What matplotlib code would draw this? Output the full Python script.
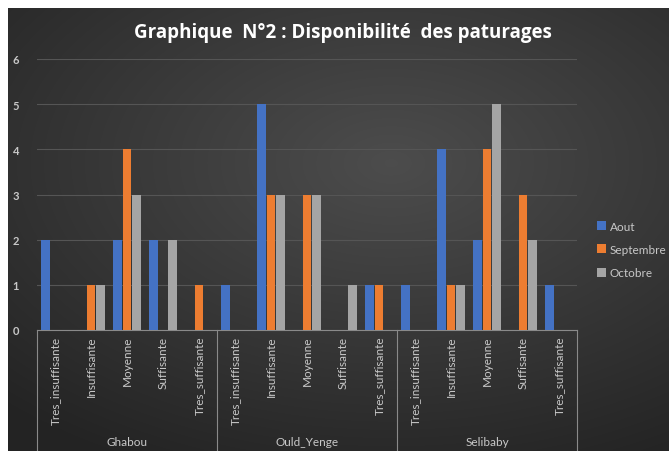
import numpy as np
import matplotlib
matplotlib.use('Agg')
import matplotlib.pyplot as plt
from matplotlib.patches import Patch

plt.rcParams['font.family'] = ['Lato', 'DejaVu Sans']

groups = ['Ghabou', 'Ould_Yenge', 'Selibaby']
categories = ['Tres_insuffisante', 'Insuffisante', 'Moyenne', 'Suffisante', 'Tres_suffisante']
aout = [2, 0, 2, 2, 0, 1, 5, 0, 0, 1, 1, 4, 2, 0, 1]
septembre = [0, 1, 4, 0, 1, 0, 3, 3, 0, 1, 0, 1, 4, 3, 0]
octobre = [0, 1, 3, 2, 0, 0, 3, 3, 1, 0, 0, 1, 5, 2, 0]
series = ['Aout', 'Septembre', 'Octobre']
colors = ['#4472C4', '#ED7D31', '#A5A5A5']

W, H = 669, 452
fig = plt.figure(figsize=(W / 100, H / 100), dpi=100)
fig.patch.set_facecolor('white')

# dark radial background
bg = fig.add_axes([8 / W, 0, (W - 8) / W, (H - 9) / H])
bg.set_axis_off()
yy, xx = np.mgrid[0:1:300j, 0:1:450j]
r = np.sqrt(((xx - 0.58) / 1.0) ** 2 + ((yy - 0.35) / 0.9) ** 2)
g = np.clip(0.30 - 0.19 * r, 0.14, 0.30)
bg.imshow(np.dstack([g, g, g]), aspect='auto', extent=[0, 1, 1, 0], interpolation='bilinear')
bg.set_xlim(0, 1)
bg.set_ylim(1, 0)

x0, x1, ytop, ybot = 37, 577, 60, 331
ax = fig.add_axes([x0 / W, 1 - ybot / H, (x1 - x0) / W, (ybot - ytop) / H])
ax.set_facecolor('none')

x = np.arange(len(aout))
w = 0.24
off = 0.265
for i, (vals, c, lab) in enumerate(zip([aout, septembre, octobre], colors, series)):
    ax.bar(x + (i - 1) * off, vals, width=w, color=c, label=lab, zorder=3)

ax.set_xlim(-0.5, len(aout) - 0.5)
ax.set_ylim(0, 6)
ax.set_yticks(range(7))
ax.yaxis.grid(True, color='#555555', linewidth=0.8, zorder=0)
for s in ['top', 'right', 'left']:
    ax.spines[s].set_visible(False)
ax.spines['bottom'].set_color('#8a8a8a')
ax.spines['bottom'].set_linewidth(0.8)
ax.tick_params(axis='y', length=0, pad=13, labelcolor='#c8c8c8', labelsize=8)
ax.tick_params(axis='x', length=0, pad=4, labelcolor='#c8c8c8', labelsize=8.5)
ax.set_xticks(x)
ax.set_xticklabels(categories * len(groups), rotation=90, va='top')
for lab in ax.get_yticklabels():
    lab.set_fontweight('bold')

# group separators and group labels
tr = ax.get_xaxis_transform()
n = len(categories)
for k in range(len(groups) + 1):
    ax.plot([k * n - 0.5] * 2, [0, -0.45], transform=tr, color='#8a8a8a', lw=0.8, clip_on=False)
for k, gname in enumerate(groups):
    ax.text(k * n + (n - 1) / 2, -0.41, gname, transform=tr, ha='center', va='center',
            color='#c8c8c8', fontsize=8.5)

fig.text(343 / W, 1 - 33 / H, 'Graphique  N°2 : Disponibilité  des paturages', ha='center', va='center',
         color='white', fontsize=13.5, fontweight='bold', family='Open Sans')

handles = [Patch(facecolor=c, label=s) for c, s in zip(colors, series)]
fig.legend(handles=handles, loc='upper left', bbox_to_anchor=(586 / W, 1 - 211 / H), frameon=False,
           fontsize=8.5, labelcolor='#c8c8c8', handlelength=0.8, handleheight=0.8,
           handletextpad=0.3, labelspacing=1.05)

fig.savefig('out.png', dpi=100)
